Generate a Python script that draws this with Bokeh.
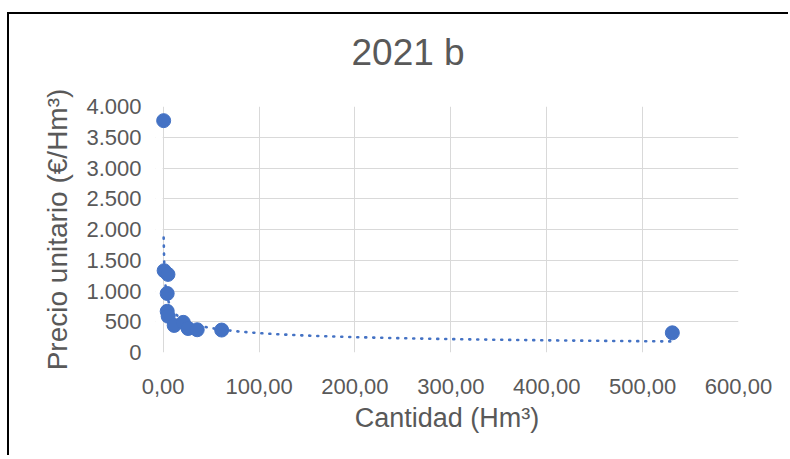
import numpy as np
from bokeh.plotting import figure
from bokeh.models import Range1d, FixedTicker, BoxAnnotation, Title
from bokeh.embed import file_html
from bokeh.resources import INLINE

# ---- data ----
cantidad = [0.5, 1.0, 5.0, 4.2, 4.2, 5.2, 11.5, 21.0, 26.0, 35.5, 61.0, 531.0]
precio = [3770, 1330, 1270, 960, 670, 590, 440, 490, 390, 370, 365, 320]

x_ticks = [0, 100, 200, 300, 400, 500, 600]
x_tick_labels = ["0,00", "100,00", "200,00", "300,00", "400,00", "500,00", "600,00"]
y_ticks = [0, 500, 1000, 1500, 2000, 2500, 3000, 3500, 4000]
y_tick_labels = ["0", "500", "1.000", "1.500", "2.000", "2.500", "3.000", "3.500", "4.000"]

title_text = "2021 b"
x_title = "Cantidad (Hm\u00b3)"
y_title = "Precio unitario (\u20ac/Hm\u00b3)"

# power trend line (least squares on logs, as a spreadsheet does)
lx = np.log(np.array(cantidad, dtype=float))
ly = np.log(np.array(precio, dtype=float))
b, ln_a = np.polyfit(lx, ly, 1)
trend_x = np.linspace(min(cantidad), max(cantidad), 800)
trend_y = np.exp(ln_a) * trend_x ** b

TXT = "#595959"
GRID = "#d9d9d9"
BLUE = "#4472C4"
FONT = "Liberation Sans"

p = figure(width=781, height=443, output_backend="svg", toolbar_location=None,
           title=None,
           x_range=Range1d(-8, 600), y_range=Range1d(0, 4000),
           min_border_left=146, min_border_right=52, min_border_top=92,
           min_border_bottom=105)
p.styles = {"border-left": "2px solid black", "border-top": "2px solid black",
            "margin-top": "12px", "margin-left": "7px"}

# empty spacer title next to the frame, then the real title above it
spacer = Title(text=" ", text_font=FONT, text_font_size="29px", standoff=0)
p.add_layout(spacer, "above")
main_title = Title(text=title_text, align="left", offset=196, standoff=0,
                   text_font=FONT, text_font_size="37px",
                   text_font_style="normal", text_color=TXT)
p.add_layout(main_title, "above")

p.outline_line_color = None
p.background_fill_color = "white"
p.border_fill_color = "white"

for ax in (p.xaxis, p.yaxis):
    ax.axis_line_color = None
    ax.major_tick_line_color = None
    ax.minor_tick_line_color = None
    ax.major_label_text_font = FONT
    ax.major_label_text_font_size = "22px"
    ax.major_label_text_color = TXT
    ax.axis_label_text_font = FONT
    ax.axis_label_text_font_style = "normal"
    ax.axis_label_text_color = TXT
    ax.major_tick_out = 0
    ax.major_tick_in = 0

p.xaxis.axis_label_text_font_size = "27px"
p.yaxis.axis_label_text_font_size = "28px"

p.xaxis.ticker = FixedTicker(ticks=x_ticks)
p.xaxis.major_label_overrides = dict(zip(x_ticks, x_tick_labels))
p.yaxis.ticker = FixedTicker(ticks=y_ticks)
p.yaxis.major_label_overrides = dict(zip(y_ticks, y_tick_labels))
p.xaxis.axis_label = x_title
p.yaxis.axis_label = y_title
p.xaxis.major_label_standoff = 26
p.xaxis.axis_label_standoff = 6
p.yaxis.major_label_standoff = 14
p.yaxis.axis_label_standoff = 10

p.xgrid.ticker = FixedTicker(ticks=x_ticks)
p.ygrid.ticker = FixedTicker(ticks=y_ticks)
p.xgrid.grid_line_color = GRID
p.ygrid.grid_line_color = GRID
p.xgrid.grid_line_width = 1
p.ygrid.grid_line_width = 1

# white strip left of x=0 so gridlines start at the value axis
mask = BoxAnnotation(right=-0.5, fill_color="white", fill_alpha=1.0,
                     line_color=None, level="underlay")
p.add_layout(mask)

p.line(trend_x, trend_y, line_color=BLUE, line_width=2.6,
       line_dash="1 7", line_cap="round")
p.scatter(cantidad, precio, size=14, fill_color=BLUE, line_color=BLUE)

open("out.html", "w").write(file_html(p, INLINE))
